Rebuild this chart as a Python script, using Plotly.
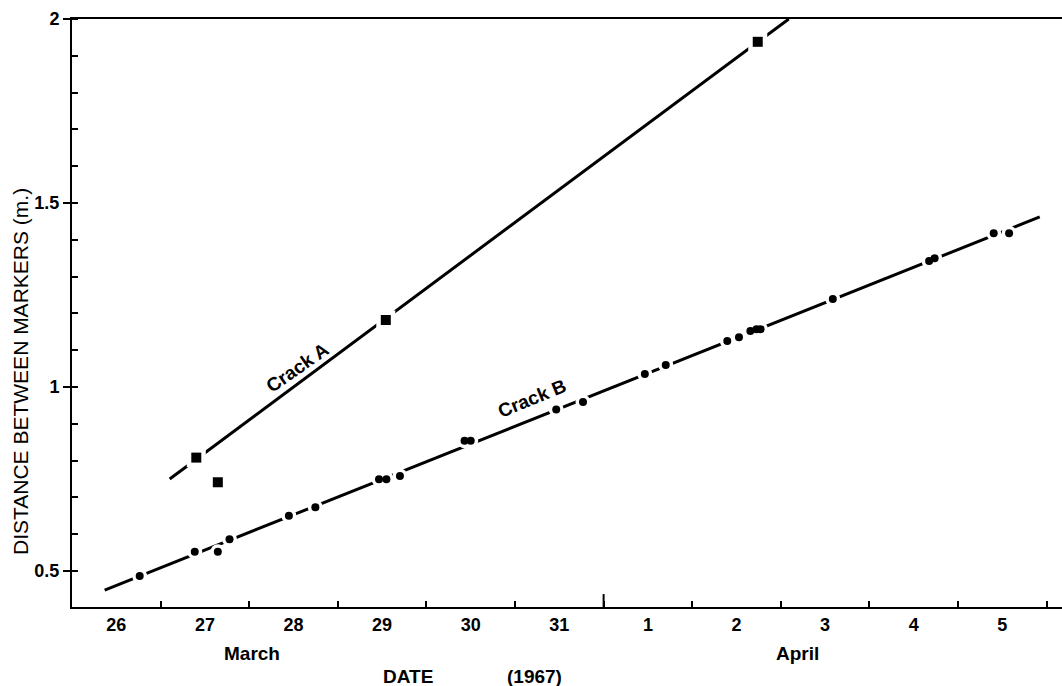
import plotly.graph_objects as go

# ---- data ----
day_ticks = ["1967-03-26 12:00", "1967-03-27 12:00", "1967-03-28 12:00", "1967-03-29 12:00",
             "1967-03-30 12:00", "1967-03-31 12:00", "1967-04-01 12:00", "1967-04-02 12:00",
             "1967-04-03 12:00", "1967-04-04 12:00", "1967-04-05 12:00"]
day_labels = ["26", "27", "28", "29", "30", "31", "1", "2", "3", "4", "5"]
midnights = ["1967-03-27", "1967-03-28", "1967-03-29", "1967-03-30", "1967-03-31",
             "1967-04-01", "1967-04-02", "1967-04-03", "1967-04-04", "1967-04-05", "1967-04-06"]

y_ticks = [0.5, 1.0, 1.5, 2.0]
y_labels = ["0.5", "1", "1.5", "2"]

crack_a_dates = ["1967-03-27 09:40", "1967-03-27 15:30", "1967-03-29 13:00", "1967-04-02 17:45"]
crack_a_vals = [0.808, 0.741, 1.182, 1.938]

crack_b_dates = ["1967-03-26 18:20", "1967-03-27 09:15", "1967-03-27 15:30", "1967-03-27 18:40",
                 "1967-03-28 10:45", "1967-03-28 17:55", "1967-03-29 11:10", "1967-03-29 13:10",
                 "1967-03-29 16:50", "1967-03-30 10:20", "1967-03-30 12:00", "1967-03-31 11:10",
                 "1967-03-31 18:25", "1967-04-01 11:10", "1967-04-01 16:50", "1967-04-02 09:30",
                 "1967-04-02 12:40", "1967-04-02 15:45", "1967-04-02 17:25", "1967-04-02 18:30",
                 "1967-04-03 14:05", "1967-04-04 16:10", "1967-04-04 17:40", "1967-04-05 09:40",
                 "1967-04-05 13:50"]
crack_b_vals = [0.486, 0.552, 0.552, 0.586, 0.650, 0.673, 0.749, 0.749, 0.758, 0.854, 0.854,
                0.939, 0.959, 1.035, 1.060, 1.125, 1.135, 1.152, 1.157, 1.157, 1.239, 1.342,
                1.350, 1.418, 1.418]

fit_a_dates = ["1967-03-27 02:28", "1967-04-03 02:10"]
fit_a_vals = [0.75, 2.0]
fit_b_dates = ["1967-03-26 08:51", "1967-04-05 22:08"]
fit_b_vals = [0.448, 1.462]

BLACK = "#000000"
fig = go.Figure()

# fitted lines
for xs, ys in ((fit_a_dates, fit_a_vals), (fit_b_dates, fit_b_vals)):
    fig.add_trace(go.Scatter(x=xs, y=ys, mode="lines", line=dict(color=BLACK, width=3),
                             showlegend=False, hoverinfo="skip"))

# white halos to break the lines around the points
fig.add_trace(go.Scatter(x=crack_a_dates, y=crack_a_vals, mode="markers",
                         marker=dict(symbol="square", size=19, color="white"),
                         showlegend=False, hoverinfo="skip"))
fig.add_trace(go.Scatter(x=crack_b_dates, y=crack_b_vals, mode="markers",
                         marker=dict(symbol="circle", size=15, color="white"),
                         showlegend=False, hoverinfo="skip"))
# points
fig.add_trace(go.Scatter(x=crack_a_dates, y=crack_a_vals, mode="markers", name="Crack A",
                         marker=dict(symbol="square", size=10, color=BLACK), showlegend=False))
fig.add_trace(go.Scatter(x=crack_b_dates, y=crack_b_vals, mode="markers", name="Crack B",
                         marker=dict(symbol="circle", size=8, color=BLACK), showlegend=False))

tick_font = dict(family="Liberation Sans, Arial", size=18, color=BLACK, weight="bold")

fig.update_xaxes(
    type="date", range=["1967-03-26 00:00", "1967-04-06 04:10"],
    tickmode="array", tickvals=day_ticks, ticktext=day_labels, ticks="",
    tickfont=tick_font, showgrid=False, zeroline=False,
    showline=True, linecolor=BLACK, linewidth=2, mirror=True,
    minor=dict(tickmode="array", tickvals=midnights, ticks="inside", ticklen=6,
               tickwidth=1.5, tickcolor=BLACK, showgrid=False),
)
fig.update_yaxes(
    range=[0.402, 2.0], tickmode="array", tickvals=y_ticks, ticktext=y_labels,
    ticks="outside", ticklen=7, tickwidth=2, tickcolor=BLACK,
    tickfont=tick_font,
    showgrid=False, zeroline=False, showline=True, linecolor=BLACK, linewidth=2,
    minor=dict(dtick=0.1, tick0=0, ticks="inside", ticklen=6, tickwidth=1.5,
               tickcolor=BLACK, showgrid=False),
)

# longer tick at the month boundary
fig.add_shape(type="line", xref="x", yref="paper", x0="1967-04-01", x1="1967-04-01",
              y0=0, y1=0.022, line=dict(color=BLACK, width=2))

lab_font = dict(family="Liberation Sans, Arial", size=19, color=BLACK, weight="bold")
crack_font = dict(family="Liberation Sans, Arial", size=19, color=BLACK, weight="bold")
annotations = [
    dict(text="March", x=(252 - 72) / 990, y=-(653 - 607) / 588, xref="paper", yref="paper",
         xanchor="center", yanchor="middle", showarrow=False, font=lab_font),
    dict(text="April", x=(797 - 72) / 990, y=-(653 - 607) / 588, xref="paper", yref="paper",
         xanchor="center", yanchor="middle", showarrow=False, font=lab_font),
    dict(text="DATE", x=(408 - 72) / 990, y=-(676 - 607) / 588, xref="paper", yref="paper",
         xanchor="center", yanchor="middle", showarrow=False, font=lab_font),
    dict(text="(1967)", x=(534 - 72) / 990, y=-(676 - 607) / 588, xref="paper", yref="paper",
         xanchor="center", yanchor="middle", showarrow=False, font=lab_font),
    dict(text="DISTANCE BETWEEN MARKERS (m.)", x=-(72 - 20) / 990, y=(607 - 372) / 588,
         xref="paper", yref="paper", xanchor="center", yanchor="middle",
         showarrow=False, textangle=-90,
         font=dict(family="Liberation Sans, Arial", size=21, color=BLACK)),
    dict(text="Crack A", x="1967-03-28 13:08", y=1.052, xref="x", yref="y",
         showarrow=False, textangle=-35, font=crack_font),
    dict(text="Crack B", x="1967-03-31 04:32", y=0.970, xref="x", yref="y",
         showarrow=False, textangle=-22, font=crack_font),
]
fig.update_layout(
    width=1062, height=686, margin=dict(l=72, r=0, t=19, b=79),
    paper_bgcolor="white", plot_bgcolor="white", annotations=annotations,
    showlegend=False,
)

fig.write_html("out.html", config={"displayModeBar": False},
               post_script="document.body.style.margin='0px';")
